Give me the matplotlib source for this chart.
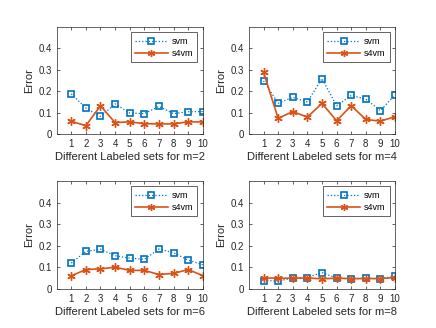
import matplotlib
matplotlib.use("Agg")
import matplotlib.pyplot as plt
import numpy as np

plt.rcParams['font.family'] = ['Liberation Sans', 'DejaVu Sans']
plt.rcParams['font.size'] = 8

# labeled set index
sets = np.arange(1, 11)
m_values = [2, 4, 6, 8]

# error rates
svm_m2 = [0.188, 0.121, 0.082, 0.141, 0.098, 0.095, 0.129, 0.095, 0.104, 0.105]
s4vm_m2 = [0.059, 0.039, 0.132, 0.053, 0.057, 0.048, 0.047, 0.047, 0.057, 0.056]
svm_m4 = [0.248, 0.144, 0.171, 0.150, 0.259, 0.132, 0.180, 0.163, 0.109, 0.183]
s4vm_m4 = [0.288, 0.073, 0.105, 0.079, 0.143, 0.062, 0.132, 0.068, 0.060, 0.081]
svm_m6 = [0.120, 0.174, 0.184, 0.154, 0.143, 0.137, 0.185, 0.168, 0.134, 0.112]
s4vm_m6 = [0.061, 0.090, 0.093, 0.101, 0.086, 0.086, 0.067, 0.072, 0.090, 0.062]
svm_m8 = [0.039, 0.037, 0.051, 0.053, 0.076, 0.050, 0.047, 0.050, 0.048, 0.059]
s4vm_m8 = [0.051, 0.050, 0.050, 0.051, 0.047, 0.050, 0.048, 0.048, 0.048, 0.053]

svm_all = [svm_m2, svm_m4, svm_m6, svm_m8]
s4vm_all = [s4vm_m2, s4vm_m4, s4vm_m6, s4vm_m8]

blue = '#0072BD'
orange = '#D95319'
dark = '#262626'

fig = plt.figure(figsize=(4.36, 3.28), dpi=100)
# axes boxes [left, bottom, width, height] in figure fractions
boxes = [
    [0.130, 0.5915, 0.335, 0.326],
    [0.571, 0.5915, 0.335, 0.326],
    [0.130, 0.119, 0.335, 0.329],
    [0.571, 0.119, 0.335, 0.329],
]

for i in range(4):
    ax = fig.add_axes(boxes[i])
    ax.plot(sets, svm_all[i], ':', color=blue, lw=0.9, marker='s',
            markersize=5, markerfacecolor='none', markeredgewidth=1.2, label='svm')
    ax.plot(sets, s4vm_all[i], '-', color=orange, lw=1.2, marker=(6, 2, 0),
            markersize=6, markeredgewidth=1.0, label='s4vm')
    ax.set_xlim(0, 10)
    ax.set_ylim(0, 0.5)
    ax.set_xticks(sets)
    ax.set_yticks([0, 0.1, 0.2, 0.3, 0.4])
    ax.set_yticklabels(['0', '0.1', '0.2', '0.3', '0.4'])
    ax.tick_params(direction='in', length=2.5, width=0.5, top=True, right=True,
                   colors=dark, labelcolor=dark, labelsize=7, pad=3.5)
    for sp in ax.spines.values():
        sp.set_linewidth(0.5)
        sp.set_color(dark)
    ax.set_xlabel('Different Labeled sets for m=%d' % m_values[i], color=dark,
                  fontsize=8, labelpad=2)
    ax.set_ylabel('Error', color=dark, fontsize=8, labelpad=3)
    leg = ax.legend(loc='upper right', fontsize=6.5, fancybox=False, framealpha=1,
                    edgecolor=dark, handlelength=3.6, borderpad=0.5,
                    labelspacing=0.3, handletextpad=0.4, borderaxespad=0.6,
                    markerscale=0.85)
    leg.get_frame().set_linewidth(0.5)

fig.savefig('out.png', dpi=100)
